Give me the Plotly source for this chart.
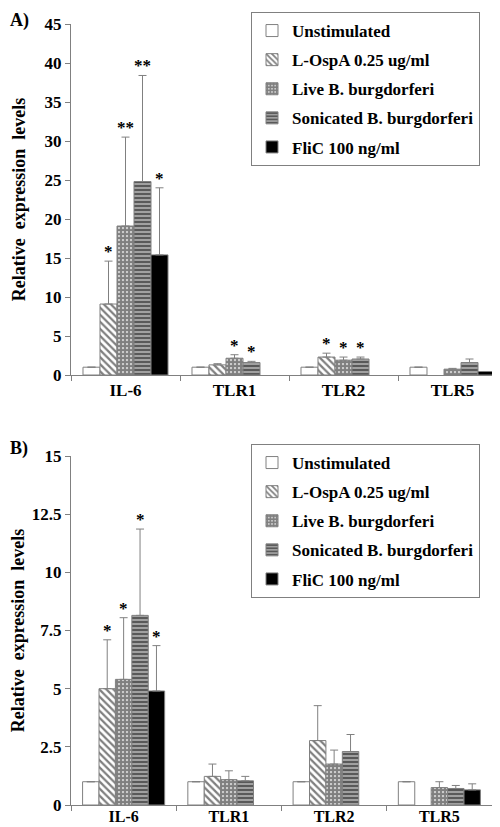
import plotly.graph_objects as go

categories = ["IL-6", "TLR1", "TLR2", "TLR5"]
series_names = ["Unstimulated", "L-OspA 0.25 ug/ml", "Live B. burgdorferi",
                "Sonicated B. burgdorferi", "FliC 100 ng/ml"]

# Panel A values and upper error bars
a_unstim = [1.0, 1.0, 1.0, 1.0]
a_lospa = [9.1, 1.3, 2.3, None]
a_live = [19.1, 2.15, 1.9, 0.75]
a_sonic = [24.8, 1.6, 2.05, 1.6]
a_flic = [15.4, None, None, 0.45]
a_unstim_err = [0, 0, 0, 0]
a_lospa_err = [5.5, 0.15, 0.5, None]
a_live_err = [11.4, 0.45, 0.4, 0.1]
a_sonic_err = [13.6, 0.15, 0.25, 0.45]
a_flic_err = [8.6, None, None, 0]
a_unstim_sig = ["", "", "", ""]
a_lospa_sig = ["*", "", "*", ""]
a_live_sig = ["**", "*", "*", ""]
a_sonic_sig = ["**", "*", "*", ""]
a_flic_sig = ["*", "", "", ""]

# Panel B values and upper error bars
b_unstim = [1.0, 1.0, 1.0, 1.0]
b_lospa = [5.0, 1.23, 2.77, None]
b_live = [5.4, 1.09, 1.76, 0.75]
b_sonic = [8.15, 1.04, 2.30, 0.71]
b_flic = [4.9, None, None, 0.65]
b_unstim_err = [0, 0, 0, 0]
b_lospa_err = [2.1, 0.53, 1.5, None]
b_live_err = [2.65, 0.38, 0.6, 0.25]
b_sonic_err = [3.71, 0.19, 0.73, 0.13]
b_flic_err = [1.95, None, None, 0.26]
b_unstim_sig = ["", "", "", ""]
b_lospa_sig = ["*", "", "", ""]
b_live_sig = ["*", "", "", ""]
b_sonic_sig = ["*", "", "", ""]
b_flic_sig = ["*", "", "", ""]

a_ticks = [0, 5, 10, 15, 20, 25, 30, 35, 40, 45]
b_ticks = [0, 2.5, 5, 7.5, 10, 12.5, 15]
b_ticklabels = ["0", "2.5", "5", "7.5", "10", "12.5", "15"]

FONT = "Liberation Serif, Times New Roman, DejaVu Serif, serif"
GREY = "#808080"
BARGAP = 0.22

patterns = [
    dict(shape=""),
    dict(shape="\\", fgcolor="black", bgcolor="white", size=5, solidity=0.45),
    dict(shape=".", fgcolor="black", bgcolor="white", size=4, solidity=0.8),
    dict(shape="-", fgcolor="#111111", bgcolor="#a0a0a0", size=4, solidity=0.5),
    dict(shape=""),
]
fills = ["white", "white", "white", "white", "black"]

panels = [
    ("x", "y", "legend", [a_unstim, a_lospa, a_live, a_sonic, a_flic],
     [a_unstim_err, a_lospa_err, a_live_err, a_sonic_err, a_flic_err],
     [a_unstim_sig, a_lospa_sig, a_live_sig, a_sonic_sig, a_flic_sig]),
    ("x2", "y2", "legend2", [b_unstim, b_lospa, b_live, b_sonic, b_flic],
     [b_unstim_err, b_lospa_err, b_live_err, b_sonic_err, b_flic_err],
     [b_unstim_sig, b_lospa_sig, b_live_sig, b_sonic_sig, b_flic_sig]),
]

fig = go.Figure()
annotations = []
n = len(series_names)
for xa, ya, lg, vals, errs, sigs in panels:
    for i in range(n):
        fig.add_trace(go.Bar(
            x=categories, y=vals[i], name=series_names[i],
            xaxis=xa, yaxis=ya, legend=lg, legendgroup=lg + str(i),
            marker=dict(color=fills[i], pattern=patterns[i],
                        line=dict(color=GREY, width=1)),
            error_y=dict(type="data", symmetric=False, array=errs[i],
                         arrayminus=[0] * len(categories),
                         color=GREY, thickness=1, width=4,
                         visible=True),
        ))
        w = (1 - BARGAP) / n
        off = -(1 - BARGAP) / 2 + w * (i + 0.5)
        for k, s in enumerate(sigs[i]):
            if s and vals[i][k] is not None:
                top = vals[i][k] + (errs[i][k] or 0)
                annotations.append(dict(
                    x=k + off, y=top, xref=xa, yref=ya, text=s,
                    showarrow=False, yanchor="bottom", yshift=-2,
                    font=dict(family=FONT, size=17, color="black",
                              weight="bold")))

annotations += [
    dict(x=0, y=1 - 12 / 827, xref="paper", yref="paper", text="A)",
         showarrow=False, xanchor="left", yanchor="middle",
         font=dict(family=FONT, size=18, color="black", weight="bold")),
    dict(x=0, y=1 - 440 / 827, xref="paper", yref="paper", text="B)",
         showarrow=False, xanchor="left", yanchor="middle",
         font=dict(family=FONT, size=18, color="black", weight="bold")),
]

tickfont = dict(family=FONT, size=17, color="black", weight="bold")
axis_common = dict(showline=True, linecolor=GREY, linewidth=1, ticks="outside",
                   tickcolor=GREY, ticklen=5, showgrid=False, zeroline=False,
                   tickfont=tickfont, automargin=False)
ytitle = dict(text="Relative  expression  levels",
              font=dict(family=FONT, size=18, color="black", weight="bold"),
              standoff=14)

legend_common = dict(bgcolor="white", bordercolor=GREY, borderwidth=1,
                     font=dict(family=FONT, size=17, color="black", weight="bold"),
                     xanchor="left", yanchor="top", tracegroupgap=4,
                     traceorder="grouped", itemwidth=30)

fig.update_layout(
    width=500, height=827, margin=dict(l=0, r=0, t=0, b=0),
    paper_bgcolor="white", plot_bgcolor="white",
    barmode="group", bargap=BARGAP, bargroupgap=0,
    font=dict(family=FONT, color="black"),
    xaxis=dict(domain=[63 / 500, 499 / 500], anchor="y", tickson="boundaries",
               **axis_common),
    yaxis=dict(domain=[1 - 367 / 827, 1 - 16 / 827], anchor="x", range=[0, 45],
               tickvals=a_ticks, ticktext=[str(t) for t in a_ticks],
               title=ytitle, **axis_common),
    xaxis2=dict(domain=[63 / 500, 484 / 500], anchor="y2", tickson="boundaries",
                ticklabelstandoff=-3,
                **{k: v for k, v in axis_common.items() if k != "tickfont"},
                tickfont=dict(family=FONT, size=16, color="black", weight="bold")),
    yaxis2=dict(domain=[1 - 797 / 827, 1 - 448 / 827], anchor="x2", range=[0, 15],
                tickvals=b_ticks, ticktext=b_ticklabels,
                title=ytitle, **axis_common),
    legend=dict(x=243 / 500, y=1 - 4 / 827, **legend_common),
    legend2=dict(x=243 / 500, y=1 - 436 / 827, **legend_common),
    annotations=annotations,
    showlegend=True,
)

fig.write_html("out.html")
